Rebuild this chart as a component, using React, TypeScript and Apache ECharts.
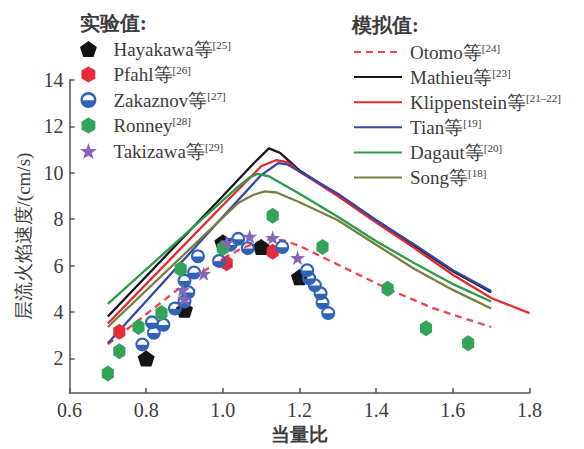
import React, { useEffect, useRef } from 'react';
import * as echarts from 'echarts';

// ---------- data ----------
const xTicks = [0.6, 0.8, 1.0, 1.2, 1.4, 1.6, 1.8];
const yTicks = [2, 4, 6, 8, 10, 12, 14];

const expNames = ['Hayakawa等', 'Pfahl等', 'Zakaznov等', 'Ronney', 'Takizawa等'];
const expRefs = ['[25]', '[26]', '[27]', '[28]', '[29]'];
const simNames = ['Otomo等', 'Mathieu等', 'Klippenstein等', 'Tian等', 'Dagaut等', 'Song等'];
const simRefs = ['[24]', '[23]', '[21–22]', '[19]', '[20]', '[18]'];

// experimental points [equivalence ratio, flame speed cm/s]
const hayakawa = [[0.80, 2.0], [0.90, 4.1], [1.00, 7.0], [1.10, 6.8], [1.20, 5.5]];
const pfahl = [[0.73, 3.15], [1.01, 6.1], [1.13, 6.6]];
const zakaznov = [
  [0.79, 2.6], [0.82, 3.1], [0.815, 3.55], [0.845, 3.45], [0.875, 4.15], [0.90, 4.45],
  [0.91, 4.85], [0.90, 5.35], [0.925, 5.7], [0.935, 6.4], [0.99, 6.2], [1.02, 6.9],
  [1.04, 7.15], [1.065, 6.75], [1.155, 6.8], [1.22, 5.8], [1.225, 5.45], [1.24, 5.15],
  [1.255, 4.8], [1.26, 4.4], [1.275, 3.95],
];
const ronney = [
  [0.70, 1.35], [0.73, 2.3], [0.78, 3.35], [0.84, 3.95], [0.89, 5.85], [1.00, 6.75],
  [1.13, 8.15], [1.26, 6.8], [1.43, 5.0], [1.53, 3.3], [1.64, 2.65],
];
const takizawa = [[0.895, 4.95], [0.90, 4.55], [0.95, 5.65], [1.01, 7.0], [1.07, 7.25], [1.13, 7.2], [1.195, 6.33]];

// simulated curves
const otomo = [[0.70, 2.6], [0.80, 3.9], [0.90, 5.2], [1.00, 6.3], [1.05, 6.75], [1.10, 7.05], [1.13, 7.15], [1.16, 7.08], [1.20, 6.85], [1.28, 6.2], [1.43, 5.0], [1.55, 4.15], [1.70, 3.35]];
const mathieu = [[0.70, 3.8], [1.00, 9.0], [1.08, 10.4], [1.12, 11.05], [1.15, 10.85], [1.20, 10.1], [1.30, 9.05], [1.40, 7.95], [1.50, 6.85], [1.60, 5.75], [1.70, 4.85]];
const klippenstein = [[0.70, 3.5], [1.00, 8.6], [1.10, 10.28], [1.14, 10.55], [1.17, 10.45], [1.20, 10.05], [1.30, 9.0], [1.40, 7.85], [1.50, 6.75], [1.60, 5.6], [1.70, 4.6], [1.80, 3.95]];
const tian = [[0.70, 2.65], [1.00, 8.1], [1.10, 9.9], [1.145, 10.42], [1.17, 10.35], [1.20, 10.05], [1.30, 9.1], [1.40, 7.95], [1.50, 6.9], [1.60, 5.8], [1.70, 4.9]];
const dagaut = [[0.70, 4.35], [1.04, 9.4], [1.07, 9.8], [1.09, 9.95], [1.12, 9.85], [1.20, 9.1], [1.30, 8.1], [1.40, 7.05], [1.50, 6.1], [1.60, 5.2], [1.70, 4.45]];
const song = [[0.70, 3.35], [1.04, 8.7], [1.08, 9.05], [1.11, 9.2], [1.14, 9.15], [1.20, 8.73], [1.30, 7.95], [1.40, 6.9], [1.50, 5.85], [1.60, 4.95], [1.70, 4.15]];

// ---------- styling ----------
const SERIF = 'Liberation Serif, serif';
const CJK = 'serif';
const TXT = '#3c3c3c';

const PENTAGON = 'path://M10,0 L19.51,6.91 L15.88,18.09 L4.12,18.09 L0.49,6.91 Z';
const HEXAGON = 'path://M10,0 L18.66,5 L18.66,15 L10,20 L1.34,15 L1.34,5 Z';
const STAR = 'path://M10,0 L12.35,6.76 L19.51,6.91 L13.8,11.24 L15.88,18.09 L10,14 L4.12,18.09 L6.2,11.24 L0.49,6.91 L7.65,6.76 Z';
const HALFCIRCLE = 'path://M0,10 A10,10 0 1,1 20,10 A10,10 0 1,1 0,10 Z M2.9,10.4 L17.1,10.4 A7.1,7.1 0 0,0 2.9,10.4 Z';

const refOf = (name: string) => {
  const i = expNames.indexOf(name);
  if (i >= 0) return expRefs[i];
  const j = simNames.indexOf(name);
  return j >= 0 ? simRefs[j] : '';
};

const legendRich = (padLeft: number) => ({
  n: { fontSize: 19, fontFamily: SERIF, color: TXT, lineHeight: 20, padding: [0, 0, 0, padLeft] },
  s: { fontSize: 11, fontFamily: SERIF, color: TXT, lineHeight: 12, verticalAlign: 'top' },
});

export default function App() {
  const ref = useRef<HTMLDivElement>(null);
  useEffect(() => {
    if (!ref.current) return;
    const chart = echarts.init(ref.current, null, { renderer: 'svg' });

    const lineSeries = (name: string, data: number[][], color: string, type: string = 'solid') => ({
      name,
      type: 'line',
      data,
      symbol: 'none',
      lineStyle: { color, width: 2.3, type: type === 'dashed' ? [7, 5] : 'solid' },
      itemStyle: { color },
      z: 2,
    });
    const scatterSeries = (name: string, data: number[][], symbol: string, size: number | number[], color: string) => ({
      name,
      type: 'scatter',
      data,
      symbol,
      symbolSize: size,
      symbolKeepAspect: true,
      itemStyle: { color, opacity: 1 },
      z: 3,
    });

    chart.setOption({
      animation: false,
      backgroundColor: '#ffffff',
      textStyle: { fontFamily: SERIF },
      grid: { left: 69.5, right: 54.5, top: 80, bottom: 50 },
      xAxis: {
        type: 'value',
        min: 0.6,
        max: 1.8,
        interval: 0.2,
        name: '当量比',
        nameLocation: 'middle',
        nameGap: 30,
        nameTextStyle: { fontFamily: CJK, fontSize: 19, fontWeight: 'bold', color: TXT },
        axisLine: { show: true, lineStyle: { color: '#555', width: 1.5 } },
        axisTick: { show: true, inside: true, length: 5, lineStyle: { color: '#555', width: 1.5 } },
        axisLabel: {
          fontFamily: SERIF, fontSize: 20, color: TXT, margin: 7,
          formatter: (v: number) => v.toFixed(1),
          customValues: xTicks,
        },
        splitLine: { show: false },
      },
      yAxis: {
        type: 'value',
        min: 0.5,
        max: 14,
        name: '层流火焰速度/(cm/s)',
        nameLocation: 'middle',
        nameGap: 32,
        nameTextStyle: { fontFamily: CJK, fontSize: 19, color: TXT },
        axisLine: { show: true, lineStyle: { color: '#555', width: 1.5 } },
        axisTick: { show: true, inside: true, length: 5, lineStyle: { color: '#555', width: 1.5 }, customValues: yTicks },
        axisLabel: { fontFamily: SERIF, fontSize: 20, color: TXT, margin: 6, customValues: yTicks },
        splitLine: { show: false },
      },
      legend: [
        {
          orient: 'vertical',
          left: 80,
          top: 39,
          padding: 0,
          itemWidth: 30,
          itemHeight: 16,
          itemGap: 6,
          selectedMode: false,
          data: expNames,
          formatter: (name: string) => `{n|${name}}{s|${refOf(name)}}`,
          textStyle: { rich: legendRich(5), color: TXT, fontFamily: SERIF },
        },
        {
          orient: 'vertical',
          left: 353,
          top: 42,
          padding: 0,
          itemWidth: 48,
          itemHeight: 16,
          itemGap: 5.6,
          selectedMode: false,
          itemStyle: { opacity: 0 },
          data: simNames,
          formatter: (name: string) => `{n|${name}}{s|${refOf(name)}}`,
          textStyle: { rich: legendRich(3), color: TXT, fontFamily: SERIF },
        },
      ],
      graphic: [
        { type: 'text', left: 80, top: 13, style: { text: '实验值:', font: `bold 20px ${CJK}`, fill: TXT } },
        { type: 'text', left: 352, top: 15, style: { text: '模拟值:', font: `bold 20px ${CJK}`, fill: TXT } },
      ],
      series: [
        lineSeries(simNames[0], otomo, '#ef4350', 'dashed'),
        lineSeries(simNames[1], mathieu, '#161616'),
        lineSeries(simNames[2], klippenstein, '#e8262d'),
        lineSeries(simNames[3], tian, '#3447a8'),
        lineSeries(simNames[4], dagaut, '#2e9b4b'),
        lineSeries(simNames[5], song, '#76803e'),
        scatterSeries(expNames[0], hayakawa, PENTAGON, 17, '#141414'),
        scatterSeries(expNames[1], pfahl, HEXAGON, [14, 16], '#e42c3a'),
        scatterSeries(expNames[2], zakaznov, HALFCIRCLE, 14, '#2f63b8'),
        scatterSeries(expNames[3], ronney, HEXAGON, [14, 16], '#33a35a'),
        scatterSeries(expNames[4], takizawa, STAR, 15, '#8467b8'),
      ],
    });
    return () => chart.dispose();
  }, []);
  return (
    <div
      ref={ref}
      style={{ position: 'absolute', left: 0, top: 0, width: 584, height: 449, background: '#fff' }}
    />
  );
}
